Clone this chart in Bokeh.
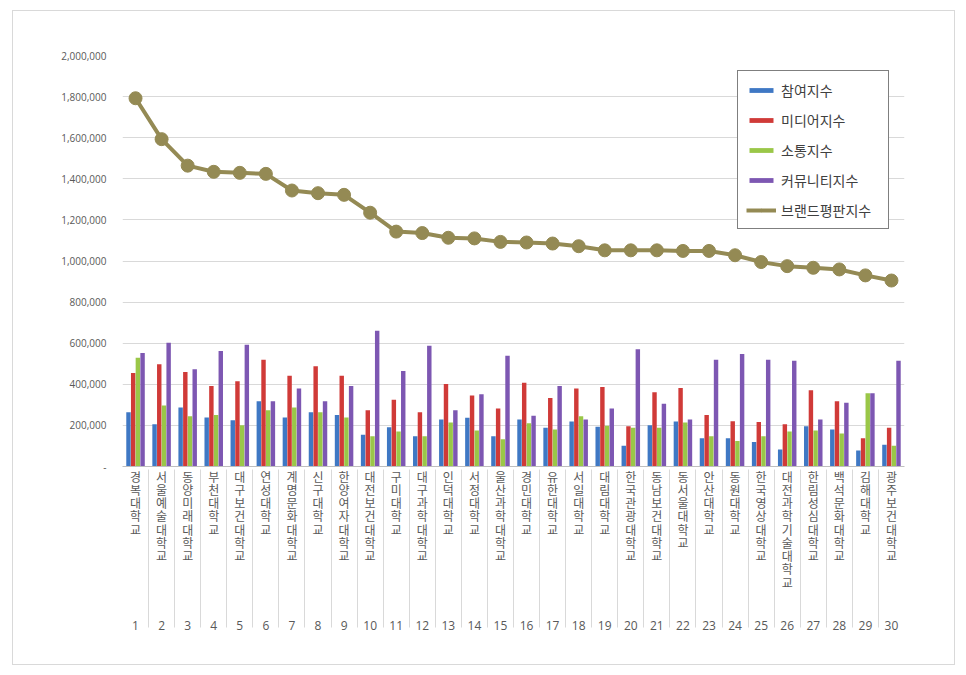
from bokeh.plotting import figure
from bokeh.models import FactorRange, Range1d, ColumnDataSource, NumeralTickFormatter, FixedTicker
from bokeh.transform import dodge
from bokeh.embed import file_html
from bokeh.resources import INLINE

names = ["경복대학교", "서울예술대학교", "동양미래대학교", "부천대학교", "대구보건대학교",
         "연성대학교", "계명문화대학교", "신구대학교", "한양여자대학교", "대전보건대학교",
         "구미대학교", "대구과학대학교", "인덕대학교", "서정대학교", "울산과학대학교",
         "경민대학교", "유한대학교", "서일대학교", "대림대학교", "한국관광대학교",
         "동남보건대학교", "동서울대학교", "안산대학교", "동원대학교", "한국영상대학교",
         "대전과학기술대학교", "한림성심대학교", "백석문화대학교", "김해대학교", "광주보건대학교"]
ranks = [str(i) for i in range(1, 31)]

participation = [264000, 206000, 287000, 238000, 225000, 317000, 238000, 264000, 251000, 155000,
                 191000, 147000, 229000, 237000, 147000, 229000, 188000, 219000, 193000, 101000,
                 201000, 219000, 137000, 137000, 119000, 83000, 196000, 180000, 78000, 106000]
media = [455000, 498000, 460000, 392000, 415000, 519000, 442000, 488000, 442000, 274000,
         325000, 264000, 402000, 346000, 282000, 407000, 333000, 379000, 387000, 196000,
         361000, 382000, 251000, 220000, 216000, 206000, 371000, 317000, 137000, 188000]
communication = [529000, 297000, 245000, 251000, 201000, 274000, 287000, 264000, 238000, 147000,
                 170000, 147000, 214000, 175000, 132000, 211000, 180000, 245000, 198000, 188000,
                 188000, 214000, 147000, 124000, 147000, 170000, 175000, 160000, 356000, 101000]
community = [552000, 602000, 473000, 562000, 593000, 317000, 379000, 317000, 392000, 661000,
             465000, 588000, 274000, 351000, 539000, 247000, 392000, 229000, 282000, 570000,
             305000, 229000, 519000, 547000, 519000, 514000, 229000, 310000, 356000, 514000]
brand = [1792000, 1593000, 1464000, 1434000, 1429000, 1424000, 1343000, 1330000, 1322000, 1235000,
         1143000, 1136000, 1113000, 1110000, 1093000, 1090000, 1085000, 1072000, 1052000, 1052000,
         1052000, 1049000, 1049000, 1028000, 995000, 975000, 967000, 959000, 930000, 905000]

series_labels = ["참여지수", "미디어지수", "소통지수", "커뮤니티지수", "브랜드평판지수"]
y_ticks = list(range(0, 2000001, 200000))

# vertical (stacked) labels; two trailing blank lines leave room above the rank numbers
factors = [(r, "\n".join(n) + "\n\n") for r, n in zip(ranks, names)]
src = ColumnDataSource(dict(x=factors, p=participation, m=media, c=communication,
                            k=community, b=brand))

p = figure(width=943, height=655, output_backend="svg", toolbar_location=None,
           x_range=FactorRange(factors=factors, factor_padding=0, group_padding=0, range_padding=0),
           y_range=Range1d(0, 2000000),
           min_border_left=109, min_border_right=52, min_border_top=44, min_border_bottom=200)
p.outline_line_color = None
p.background_fill_color = "white"
p.border_fill_color = "white"
p.styles = {"border": "1px solid #d9d9d9", "margin-left": "12px", "margin-top": "10px",
            "box-sizing": "border-box"}

colors = ["#3F78C4", "#D03A38", "#9AC748", "#7D57B2"]
cols = ["p", "m", "c", "k"]
offsets = [-0.27, -0.09, 0.09, 0.27]
for col, off, colr, lab in zip(cols, offsets, colors, series_labels[:4]):
    p.vbar(x=dodge("x", off, range=p.x_range), top=col, width=0.17, source=src,
           fill_color=colr, line_color=None, legend_label=lab)

line_col = "#948A54"
p.line(x="x", y="b", source=src, line_color=line_col, line_width=4, legend_label=series_labels[4])
p.scatter(x="x", y="b", source=src, size=13, fill_color=line_col, line_color=line_col,
          legend_label=series_labels[4])

# y axis
p.yaxis.ticker = FixedTicker(ticks=y_ticks)
p.yaxis.formatter = NumeralTickFormatter(format="0,0")
p.yaxis.major_label_overrides = {0: "-"}
p.yaxis.axis_line_color = None
p.yaxis.major_tick_line_color = None
p.yaxis.minor_tick_line_color = None
p.yaxis.major_label_standoff = 10
p.yaxis.major_label_text_font = "Open Sans"
p.yaxis.major_label_text_font_size = "10px"
p.yaxis.major_label_text_color = "#595959"
p.ygrid.grid_line_color = "#d9d9d9"
p.xgrid.grid_line_color = None

# x axis
xa = p.xaxis[0]
xa.axis_line_color = "#bfbfbf"
xa.major_tick_line_color = None
xa.major_tick_in = 0
xa.major_tick_out = 0
xa.major_label_text_font = "Noto Sans CJK KR"
xa.major_label_text_font_size = "12px"
xa.major_label_text_line_height = 0.78
xa.major_label_text_color = "#595959"
xa.major_label_orientation = "horizontal"
xa.major_label_standoff = 1
xa.group_text_font = "Open Sans"
xa.group_text_font_size = "12px"
xa.group_text_color = "#595959"
xa.group_text_font_style = "normal"
xa.separator_line_color = "#d9d9d9"
xa.separator_line_width = 1

leg = p.legend[0]
leg.location = "top_right"
leg.margin = 15
leg.border_line_color = "black"
leg.border_line_width = 1
leg.background_fill_color = "white"
leg.background_fill_alpha = 1
leg.label_text_font = "Noto Sans CJK KR"
leg.label_text_font_size = "14px"
leg.label_text_color = "#404040"
leg.glyph_width = 30
leg.glyph_height = 6
leg.label_height = 21
leg.label_width = 99
leg.spacing = 9
leg.padding = 8
leg.label_standoff = 5

open("out.html", "w").write(file_html(p, INLINE))
